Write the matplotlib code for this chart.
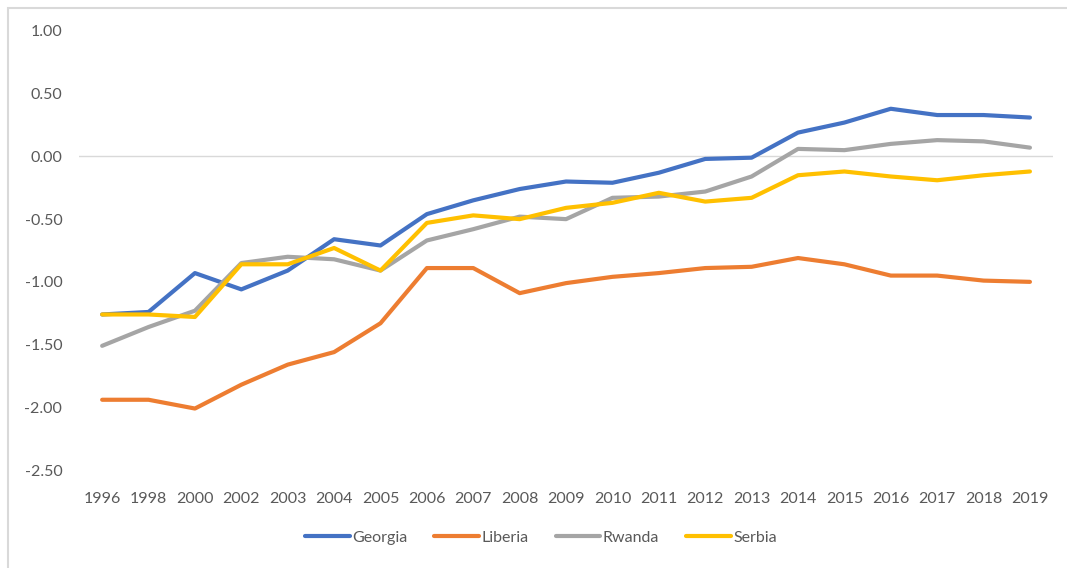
import matplotlib.pyplot as plt
from matplotlib.patches import Rectangle

years = ['1996', '1998', '2000', '2002', '2003', '2004', '2005', '2006', '2007',
         '2008', '2009', '2010', '2011', '2012', '2013', '2014', '2015', '2016',
         '2017', '2018', '2019']

georgia = [-1.26, -1.24, -0.93, -1.06, -0.91, -0.66, -0.71, -0.46, -0.35, -0.26,
           -0.20, -0.21, -0.13, -0.02, -0.01, 0.19, 0.27, 0.38, 0.33, 0.33, 0.31]
liberia = [-1.94, -1.94, -2.01, -1.82, -1.66, -1.56, -1.33, -0.89, -0.89, -1.09,
           -1.01, -0.96, -0.93, -0.89, -0.88, -0.81, -0.86, -0.95, -0.95, -0.99, -1.00]
rwanda = [-1.51, -1.36, -1.23, -0.85, -0.80, -0.82, -0.91, -0.67, -0.58, -0.48,
          -0.50, -0.33, -0.32, -0.28, -0.16, 0.06, 0.05, 0.10, 0.13, 0.12, 0.07]
serbia = [-1.26, -1.26, -1.28, -0.86, -0.86, -0.73, -0.91, -0.53, -0.47, -0.50,
          -0.41, -0.37, -0.29, -0.36, -0.33, -0.15, -0.12, -0.16, -0.19, -0.15, -0.12]

series = [
    ('Georgia', georgia, '#4472C4'),
    ('Liberia', liberia, '#ED7D31'),
    ('Rwanda', rwanda, '#A5A5A5'),
    ('Serbia', serbia, '#FFC000'),
]

plt.rcParams['font.family'] = ['Lato', 'DejaVu Sans']

fig = plt.figure(figsize=(10.67, 5.68), dpi=100)
ax = fig.add_axes([0.074, 1 - 470 / 568, 0.913, 439 / 568])

x = range(len(years))
for name, vals, color in series:
    ax.plot(x, vals, color=color, linewidth=3, label=name,
            solid_capstyle='round', solid_joinstyle='round')

ax.set_xlim(-0.5, len(years) - 0.5)
ax.set_ylim(-2.5, 1.0)
ax.set_yticks([1.0, 0.5, 0.0, -0.5, -1.0, -1.5, -2.0, -2.5])
ax.set_yticklabels([f'{v:.2f}' for v in ax.get_yticks()])
ax.set_xticks(list(x))
ax.set_xticklabels(years)

ax.axhline(0, color='#D9D9D9', linewidth=1, zorder=0)
for s in ax.spines.values():
    s.set_visible(False)
ax.tick_params(axis='both', length=0, colors='#595959', labelsize=11.5)
ax.tick_params(axis='y', pad=12)
ax.tick_params(axis='x', pad=16)

fig.legend(loc='center', bbox_to_anchor=(0.507, 1 - 538 / 568), ncol=4, frameon=False,
           fontsize=11.5, handlelength=2.8, columnspacing=1.7, handletextpad=0.15,
           labelcolor='#595959')

fig.patches.append(Rectangle((8 / 1067, -0.1), 1.2, 1.1 - 8 / 568,
                             transform=fig.transFigure, fill=False,
                             edgecolor='#D9D9D9', linewidth=1.5))

fig.savefig('out.png', dpi=100)
